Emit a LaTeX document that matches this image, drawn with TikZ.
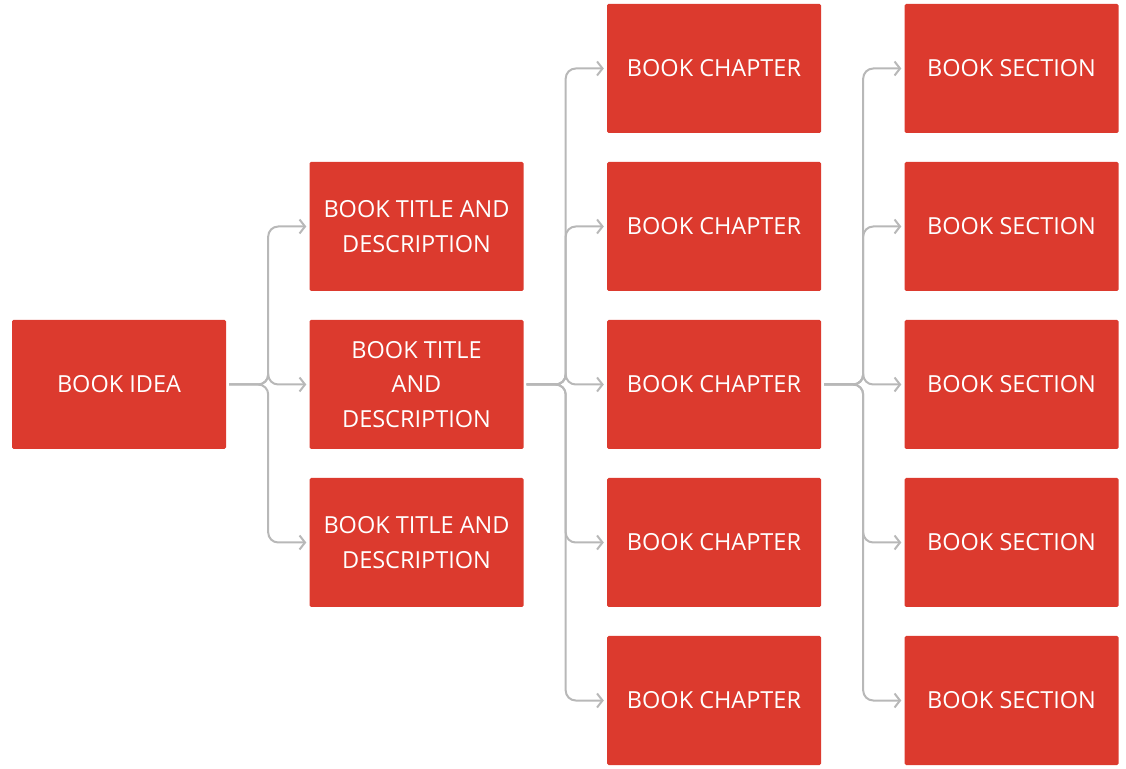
\documentclass[tikz,border=0pt]{standalone}
\usepackage{fontspec}
\setmainfont{Open Sans}
\usepackage{tikz}
\usetikzlibrary{arrows.meta}
\definecolor{bookred}{RGB}{220,58,46}
\definecolor{linkgray}{RGB}{184,184,184}
\tikzstyle{book_n} = [rectangle, fill=bookred, text=white, rounded corners=1.5pt, align=center, inner sep=0pt, minimum width=214pt, minimum height=129pt, font=\fontsize{23.5}{34.5}\selectfont]
\tikzstyle{book_link} = [draw=linkgray, line width=2pt, rounded corners=10pt, -{Straight Barb[length=5.5pt,width=14pt]}, shorten <=3pt, shorten >=3pt]

\begin{document}
\begin{tikzpicture}[x=1pt,y=1pt,grow=right,level distance=297.5pt,sibling distance=158pt,
edge from parent/.style={book_link},
edge from parent path={(\tikzparentnode.east) -- ++(42pt,0) |- (\tikzchildnode.west)}
]
\useasboundingbox (0,0) rectangle (1126,768);
\node [book_n] (idea) at (119,383.5) {BOOK IDEA}
        child{ node [book_n] (title1) {BOOK TITLE AND\\DESCRIPTION}}
        child{ node [book_n] (title2) {BOOK TITLE\\AND\\DESCRIPTION}
            child{ node [book_n] (chap1) {BOOK CHAPTER}}
            child{ node [book_n] (chap2) {BOOK CHAPTER}}
            child{ node [book_n] (chap3) {BOOK CHAPTER}
					child{ node [book_n] (sec1) {BOOK SECTION}}
					child{ node [book_n] (sec2) {BOOK SECTION}}
					child{ node [book_n] (sec3) {BOOK SECTION}}
					child{ node [book_n] (sec4) {BOOK SECTION}}
					child{ node [book_n] (sec5) {BOOK SECTION}}
					}
            child{ node [book_n] (chap4) {BOOK CHAPTER}}
            child{ node [book_n] (chap5) {BOOK CHAPTER}}
            	}
        child{ node [book_n] (title3) {BOOK TITLE AND\\DESCRIPTION}}
;
\end{tikzpicture}
\end{document}
